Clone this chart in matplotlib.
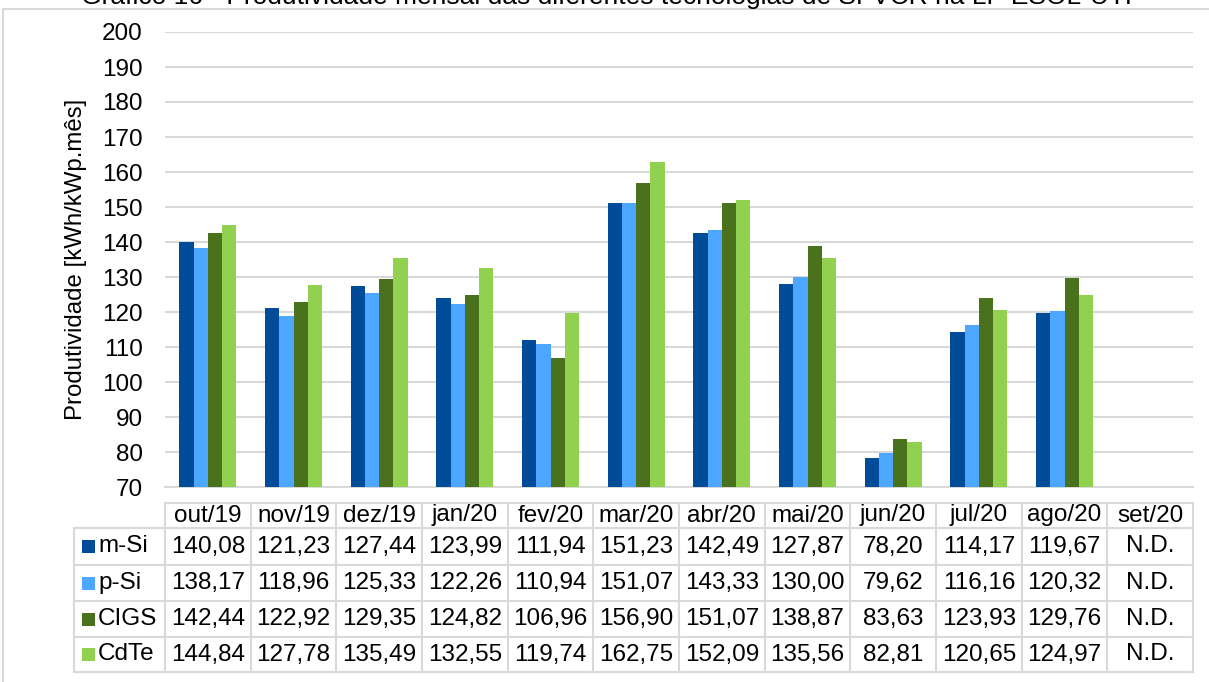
import numpy as np
import matplotlib
matplotlib.use("Agg")
import matplotlib.pyplot as plt
from matplotlib.patches import Rectangle
from matplotlib.lines import Line2D

plt.rcParams['font.family'] = ['Liberation Sans', 'DejaVu Sans']

months = ["out/19", "nov/19", "dez/19", "jan/20", "fev/20", "mar/20",
          "abr/20", "mai/20", "jun/20", "jul/20", "ago/20", "set/20"]
series_names = ["m-Si", "p-Si", "CIGS", "CdTe"]
m_si = [140.08, 121.23, 127.44, 123.99, 111.94, 151.23, 142.49, 127.87, 78.20, 114.17, 119.67, None]
p_si = [138.17, 118.96, 125.33, 122.26, 110.94, 151.07, 143.33, 130.00, 79.62, 116.16, 120.32, None]
cigs = [142.44, 122.92, 129.35, 124.82, 106.96, 156.90, 151.07, 138.87, 83.63, 123.93, 129.76, None]
cdte = [144.84, 127.78, 135.49, 132.55, 119.74, 162.75, 152.09, 135.56, 82.81, 120.65, 124.97, None]
colors = ["#004C98", "#4DA6FF", "#4A721C", "#92D050"]
y_ticks = list(range(70, 201, 10))
title = "Gráfico 16 - Produtividade mensal das diferentes tecnologias de SFVCR na LP ESOL-UTF"
ylabel = "Produtividade [kWh/kWp.mês]"

W, H = 1209, 682
fig = plt.figure(figsize=(W / 100, H / 100), dpi=100)

def fx(px):
    return px / W

def fy(py):
    return 1 - py / H

grid_c = "#D9D9D9"
FS = 17.5

# outer chart frame
fig.add_artist(Rectangle((fx(3), fy(H + 20)), fx(W + 20), fy(9) - fy(H + 20),
                         transform=fig.transFigure, fill=False,
                         edgecolor=grid_c, linewidth=1.5))

fig.text(fx(611), fy(4), title, ha="center", va="baseline", fontsize=19)

# bar chart
L, R, T, B = 165, 1193, 32, 487
ax = fig.add_axes([fx(L), fy(B), fx(R) - fx(L), fy(T) - fy(B)])
data = [m_si, p_si, cigs, cdte]
n = len(months)
x = np.arange(n) + 0.5
bw = 0.166
for k, (vals, c, name) in enumerate(zip(data, colors, series_names)):
    v = np.array([np.nan if a is None else a for a in vals], dtype=float)
    ax.bar(x + (k - 1.5) * bw, v - 70, bottom=70, width=bw, color=c,
           label=name, zorder=3)
ax.set_xlim(0, n)
ax.set_ylim(70, 200)
ax.set_yticks(y_ticks)
ax.set_yticklabels([str(t) for t in y_ticks], fontsize=FS)
ax.set_xticks([])
ax.yaxis.grid(True, color=grid_c, linewidth=1.5, zorder=0)
ax.tick_params(axis="y", length=0, pad=16)
for s in ["top", "right", "left"]:
    ax.spines[s].set_visible(False)
ax.spines["bottom"].set_color(grid_c)
ax.spines["bottom"].set_linewidth(1.5)
fig.text(fx(76), fy(259), ylabel, rotation=90, ha="center", va="center", fontsize=17.3)

# data table below the plot
TL = 74
col_w = (R - L) / n
row_edges = [503, 528, 565, 601, 637, 672]
lw = 1.5

def hline(y, x0, x1):
    fig.add_artist(Line2D([fx(x0), fx(x1)], [fy(y), fy(y)], transform=fig.transFigure,
                          color=grid_c, linewidth=lw))

def vline(xp, y0, y1):
    fig.add_artist(Line2D([fx(xp), fx(xp)], [fy(y0), fy(y1)], transform=fig.transFigure,
                          color=grid_c, linewidth=lw))

hline(row_edges[0], L, R)
for yy in row_edges[1:]:
    hline(yy, TL, R)
vline(TL, row_edges[1], row_edges[-1])
for j in range(n + 1):
    vline(L + j * col_w, row_edges[0], row_edges[-1])

for j, m in enumerate(months):
    cx = L + (j + 0.5) * col_w
    cy = (row_edges[0] + row_edges[1]) / 2
    fig.text(fx(cx), fy(cy), m, ha="center", va="center", fontsize=FS)

for i, (vals, c, name) in enumerate(zip(data, colors, series_names)):
    cy = (row_edges[i + 1] + row_edges[i + 2]) / 2
    fig.add_artist(Rectangle((fx(82), fy(cy + 6.5)), fx(13), fy(cy - 6.5) - fy(cy + 6.5),
                             transform=fig.transFigure, facecolor=c, edgecolor="none"))
    fig.text(fx(98), fy(cy), name, ha="left", va="center", fontsize=FS)
    for j, v in enumerate(vals):
        cx = L + (j + 0.5) * col_w
        s = "N.D." if v is None else f"{v:.2f}".replace(".", ",")
        fig.text(fx(cx), fy(cy), s, ha="center", va="center", fontsize=FS)

fig.savefig("out.png", dpi=100)
